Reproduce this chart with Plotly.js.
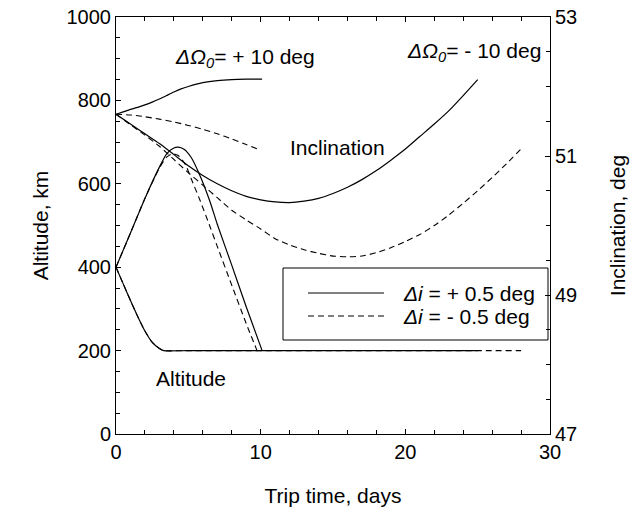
<!DOCTYPE html>
<html>
<head>
<meta charset="utf-8">
<script src="https://cdn.plot.ly/plotly-3.0.1.min.js"></script>
<style>html,body{margin:0;padding:0;background:#fff;}</style>
</head>
<body>
<div id="chart" style="width:634px;height:515px;"></div>
<script>
// ---- Data ----
// Inclination, ΔΩ0 = +10 deg
const daysIncPos10Plus = [0, 0.5, 1, 1.5, 2, 2.5, 3, 3.5, 4, 4.5, 5, 6, 7, 8, 9, 10.1];
const incPos10Plus = [51.60, 51.635, 51.67, 51.70, 51.735, 51.775, 51.82, 51.87, 51.92, 51.965, 52.00, 52.055, 52.085, 52.10, 52.105, 52.105];
const daysIncPos10Minus = [0, 1, 2, 3, 4, 5, 6, 7, 8, 9, 9.8];
const incPos10Minus = [51.60, 51.59, 51.565, 51.53, 51.49, 51.44, 51.385, 51.32, 51.245, 51.165, 51.10];
// Inclination, ΔΩ0 = -10 deg
const daysIncNeg10Plus = [0,1,2,3,4,5,6,7,8,9,10,11,12,13,14,15,16,17,18,19,20,21,22,23,24,25];
const incNeg10Plus = [51.60,51.46,51.32,51.18,51.02,50.86,50.72,50.60,50.50,50.42,50.37,50.34,50.33,50.35,50.39,50.46,50.55,50.66,50.79,50.94,51.10,51.28,51.46,51.65,51.87,52.10];
const daysIncNeg10Minus = [0,1,2,3,4,5,6,7,8,9,10,11,12,13,14,15,16,17,18,19,20,21,22,23,24,25,26,27,28];
const incNeg10Minus = [51.60,51.45,51.30,51.14,50.95,50.76,50.58,50.40,50.22,50.08,49.95,49.81,49.72,49.65,49.60,49.56,49.55,49.56,49.61,49.68,49.77,49.87,50.00,50.15,50.32,50.50,50.69,50.89,51.10];
// Altitude, ΔΩ0 = +10 deg
const daysAltPos10Plus = [0, 1, 2, 3, 3.5, 4, 4.3, 4.7, 5.2, 5.8, 6.5, 7, 8, 9, 10.1];
const altPos10Plus = [400, 482, 565, 640, 672, 686, 688, 683, 663, 620, 557, 503, 405, 305, 200];
const daysAltPos10Minus = [0, 1, 2, 3, 3.5, 3.9, 4.3, 4.8, 5.2, 5.8, 6.5, 7, 8, 9, 9.75];
const altPos10Minus = [400, 482, 565, 638, 664, 672, 668, 646, 612, 561, 497, 450, 357, 265, 200];
// Altitude, ΔΩ0 = -10 deg
const daysAltNeg10Plus = [0, 0.5, 1, 1.5, 2, 2.5, 3, 3.3, 5, 25];
const altNeg10Plus = [400, 360, 320, 282, 247, 220, 205, 200, 200, 200];
const daysAltNeg10Minus = [0, 0.5, 1, 1.5, 2, 2.5, 3, 3.3, 5, 28];
const altNeg10Minus = [400, 360, 320, 282, 247, 220, 205, 200, 200, 200];

const legendPlus = '<i>Δi</i> = + 0.5 deg';
const legendMinus = '<i>Δi</i> = - 0.5 deg';

const FONT = 'Liberation Sans, Arial, Helvetica, sans-serif';
const solid = {color: 'black', width: 1.2, dash: 'solid'};
const dashed = {color: 'black', width: 1.1, dash: '6px,4px'};

function tr(x, y, line, name, yaxis) {
  return {x: x, y: y, type: 'scatter', mode: 'lines', line: Object.assign({shape: 'spline', smoothing: 0.6}, line),
          name: name, showlegend: false, yaxis: yaxis, hoverinfo: 'skip'};
}

const data = [
  tr(daysAltNeg10Plus, altNeg10Plus, solid, legendPlus, 'y'),
  tr(daysAltNeg10Minus, altNeg10Minus, dashed, legendMinus, 'y'),
  tr(daysAltPos10Plus, altPos10Plus, solid, legendPlus, 'y'),
  tr(daysAltPos10Minus, altPos10Minus, dashed, legendMinus, 'y'),
  tr(daysIncPos10Plus, incPos10Plus, solid, legendPlus, 'y2'),
  tr(daysIncPos10Minus, incPos10Minus, dashed, legendMinus, 'y2'),
  tr(daysIncNeg10Plus, incNeg10Plus, solid, legendPlus, 'y2'),
  tr(daysIncNeg10Minus, incNeg10Minus, dashed, legendMinus, 'y2')
];

const axisCommon = {
  showline: true, linecolor: 'black', linewidth: 1, ticks: 'inside', ticklen: 5,
  tickcolor: 'black', tickwidth: 1, showgrid: false, zeroline: false,
  tickfont: {family: FONT, size: 20, color: 'black'}
};

// pixel -> paper helpers for the legend box (plot area: x 116..550, y 17..434)
const px = v => (v - 116) / 434;
const py = v => (434 - v) / 417;

const layout = {
  width: 634, height: 515,
  margin: {l: 116, r: 84, t: 17, b: 81, pad: 0},
  paper_bgcolor: 'white', plot_bgcolor: 'white',
  font: {family: FONT, size: 21, color: 'black'},
  showlegend: false,
  xaxis: Object.assign({}, axisCommon, {
    range: [0, 30], tick0: 0, dtick: 10, mirror: 'ticks',
    minor: {dtick: 2, ticks: 'inside', ticklen: 4, tickcolor: 'black', showgrid: false},
    title: {text: 'Trip time, days', font: {family: FONT, size: 21}, standoff: 26}
  }),
  yaxis: Object.assign({}, axisCommon, {
    range: [0, 1000], tick0: 0, dtick: 200,
    minor: {dtick: 50, ticks: 'inside', ticklen: 4, tickcolor: 'black', showgrid: false},
    title: {text: 'Altitude, km', font: {family: FONT, size: 21}, standoff: 12}
  }),
  yaxis2: Object.assign({}, axisCommon, {
    range: [47, 53], tick0: 47, dtick: 2, overlaying: 'y', side: 'right',
    minor: {dtick: 0.5, ticks: 'inside', ticklen: 4, tickcolor: 'black', showgrid: false},
    title: {text: 'Inclination, deg', font: {family: FONT, size: 21}, standoff: 34}
  }),
  shapes: [
    {type: 'rect', xref: 'paper', yref: 'paper', x0: px(283), x1: px(548), y0: py(340), y1: py(268),
     line: {color: 'black', width: 1}, fillcolor: 'rgba(0,0,0,0)'},
    {type: 'line', xref: 'paper', yref: 'paper', x0: px(308), x1: px(384), y0: py(293), y1: py(293),
     line: {color: 'black', width: 1}},
    {type: 'line', xref: 'paper', yref: 'paper', x0: px(308), x1: px(384), y0: py(316), y1: py(316),
     line: {color: 'black', width: 1, dash: '6px,4px'}}
  ],
  annotations: [
    {x: px(401), y: py(293), xref: 'paper', yref: 'paper', text: legendPlus, showarrow: false, xanchor: 'left', yanchor: 'middle', font: {family: FONT, size: 21}},
    {x: px(401), y: py(316), xref: 'paper', yref: 'paper', text: legendMinus, showarrow: false, xanchor: 'left', yanchor: 'middle', font: {family: FONT, size: 21}},
    {x: 3.94, y: 902, xref: 'x', yref: 'y', text: '<i>ΔΩ<sub>0</sub></i>= + 10 deg', showarrow: false, xanchor: 'left', yanchor: 'middle', font: {family: FONT, size: 21}},
    {x: 19.95, y: 916, xref: 'x', yref: 'y', text: '<i>ΔΩ<sub>0</sub></i>= - 10 deg', showarrow: false, xanchor: 'left', yanchor: 'middle', font: {family: FONT, size: 21}},
    {x: 15.31, y: 688, xref: 'x', yref: 'y', text: 'Inclination', showarrow: false, xanchor: 'center', yanchor: 'middle', font: {family: FONT, size: 21}},
    {x: 5.18, y: 134, xref: 'x', yref: 'y', text: 'Altitude', showarrow: false, xanchor: 'center', yanchor: 'middle', font: {family: FONT, size: 21}}
  ]
};

Plotly.newPlot('chart', data, layout, {staticPlot: true, displayModeBar: false});
</script>
</body>
</html>
